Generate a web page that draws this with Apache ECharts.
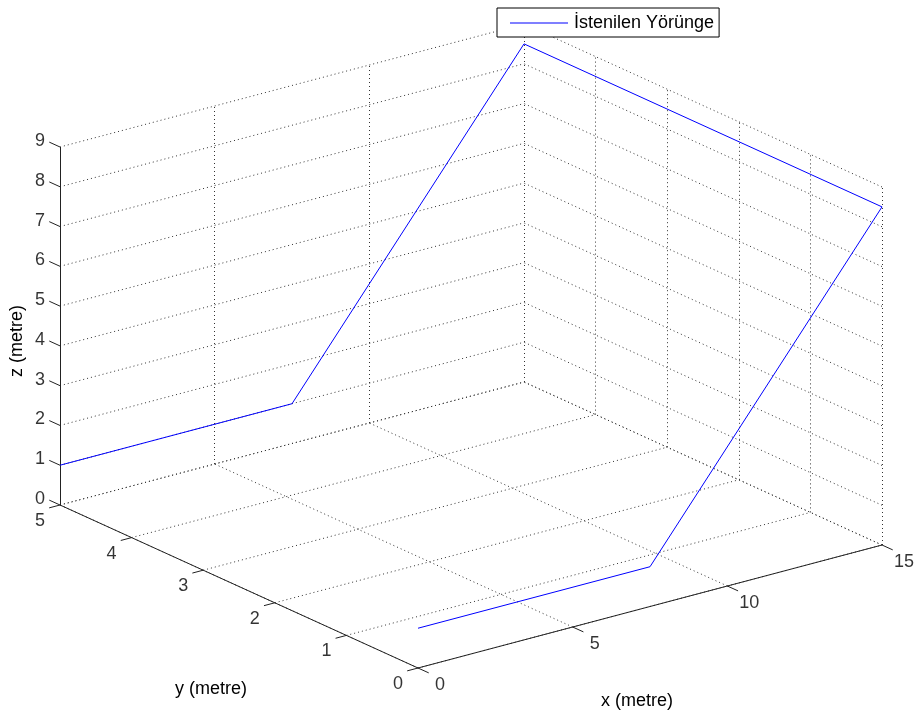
<!DOCTYPE html>
<html>
<head>
<meta charset="utf-8">
<title>İstenilen Yörünge</title>
<script src="https://cdn.jsdelivr.net/npm/echarts@6/dist/echarts.min.js"></script>
<style>
  html, body { margin: 0; padding: 0; background: #fff; }
  #main { width: 920px; height: 718px; }
</style>
</head>
<body>
<div id="main"></div>
<script>
// eksen tikleri
var xTicks = [0, 5, 10, 15];
var yTicks = [0, 1, 2, 3, 4, 5];
var zTicks = [0, 1, 2, 3, 4, 5, 6, 7, 8, 9];

// istenilen yörünge noktaları
var pathX = [0, 7.5, 15, 15, 7.5, 0];
var pathY = [0, 0, 0, 5, 5, 5];
var pathZ = [1, 1, 8.5, 8.5, 1, 1];

var seriesName = 'İstenilen Yörünge';
var FONT = 'Liberation Sans, Arial, Helvetica, sans-serif';
var FS = 18;

// görünüm (3B -> 2B izdüşüm)
var xMax = 15, yMax = 5, zMax = 9;
var O = [418, 668];
var EX = [464 / 15, -123 / 15];
var EY = [-358 / 5, -163 / 5];
var EZ = [0, -358 / 9];

function proj(x, y, z) {
    return [O[0] + x * EX[0] + y * EY[0] + z * EZ[0],
            O[1] + x * EX[1] + y * EY[1] + z * EZ[1]];
}

function seg(a, b) {
    return {coords: [proj(a[0], a[1], a[2]), proj(b[0], b[1], b[2])]};
}

//grid çizgileri
var gridSegs = [];
xTicks.forEach(function (x) {
    gridSegs.push(seg([x, yMax, 0], [x, yMax, zMax]));
    gridSegs.push(seg([x, 0, 0], [x, yMax, 0]));
});
yTicks.forEach(function (y) {
    gridSegs.push(seg([xMax, y, 0], [xMax, y, zMax]));
    gridSegs.push(seg([0, y, 0], [xMax, y, 0]));
});
zTicks.forEach(function (z) {
    gridSegs.push(seg([0, yMax, z], [xMax, yMax, z]));
    gridSegs.push(seg([xMax, 0, z], [xMax, yMax, z]));
});

//eksenler + tikler
var axisSegs = [
    seg([0, 0, 0], [xMax, 0, 0]),
    seg([0, 0, 0], [0, yMax, 0]),
    seg([0, yMax, 0], [0, yMax, zMax])
];
var xLabels = [], yLabels = [], zLabels = [];
xTicks.forEach(function (x) {
    axisSegs.push(seg([x, 0, 0], [x, -0.15, 0]));
    xLabels.push(proj(x, 0, 0).concat([x]));
});
yTicks.forEach(function (y) {
    axisSegs.push(seg([0, y, 0], [-0.35, y, 0]));
    yLabels.push(proj(0, y, 0).concat([y]));
});
zTicks.forEach(function (z) {
    axisSegs.push(seg([0, yMax, z], [0, yMax + 0.15, z]));
    zLabels.push(proj(0, yMax, z).concat([z]));
});

var pathData = pathX.map(function (x, i) {
    return proj(x, pathY[i], pathZ[i]);
});

function labelSeries(data, offset) {
    return {
        type: 'scatter',
        data: data,
        symbolSize: 0,
        silent: true,
        label: {
            show: true,
            position: 'inside',
            offset: offset,
            color: '#000',
            fontFamily: FONT,
            fontSize: FS,
            formatter: function (p) { return String(p.value[2]); }
        }
    };
}

var chart = echarts.init(document.getElementById('main'));

chart.setOption({
    animation: false,
    backgroundColor: '#fff',
    grid: {left: 0, right: 0, top: 0, bottom: 0},
    xAxis: {type: 'value', min: 0, max: 920, show: false},
    yAxis: {type: 'value', min: 0, max: 718, inverse: true, show: false},
    legend: {
        data: [seriesName],
        left: 497,
        top: 8,
        orient: 'vertical',
        icon: 'rect',
        itemWidth: 58,
        itemHeight: 1,
        itemGap: 0,
        padding: [6, 5, 5, 13],
        backgroundColor: '#fff',
        borderColor: '#000',
        borderWidth: 1,
        borderRadius: 0,
        textStyle: {fontFamily: FONT, fontSize: FS, color: '#000', padding: [0, 0, 0, 1]}
    },
    graphic: [
        {type: 'text', left: 601, top: 692, style: {text: 'x (metre)', font: FS + 'px ' + FONT, fill: '#000'}},
        {type: 'text', left: 175, top: 680, style: {text: 'y (metre)', font: FS + 'px ' + FONT, fill: '#000'}},
        {type: 'text', x: 8, y: 377, rotation: Math.PI / 2, style: {text: 'z (metre)', font: FS + 'px ' + FONT, fill: '#000'}}
    ],
    series: [
        {
            type: 'lines',
            coordinateSystem: 'cartesian2d',
            silent: true,
            data: gridSegs,
            lineStyle: {color: '#333', width: 1, type: [1, 3], opacity: 1}
        },
        {
            type: 'lines',
            coordinateSystem: 'cartesian2d',
            silent: true,
            data: axisSegs,
            lineStyle: {color: '#222', width: 1, opacity: 1}
        },
        labelSeries(xLabels, [22, 17]),
        labelSeries(yLabels, [-20, 16]),
        labelSeries(zLabels, [-20, -6]),
        {
            name: seriesName,
            type: 'line',
            data: pathData,
            showSymbol: false,
            color: '#0000ff',
            lineStyle: {color: '#0000ff', width: 1}
        }
    ]
});
</script>
</body>
</html>
